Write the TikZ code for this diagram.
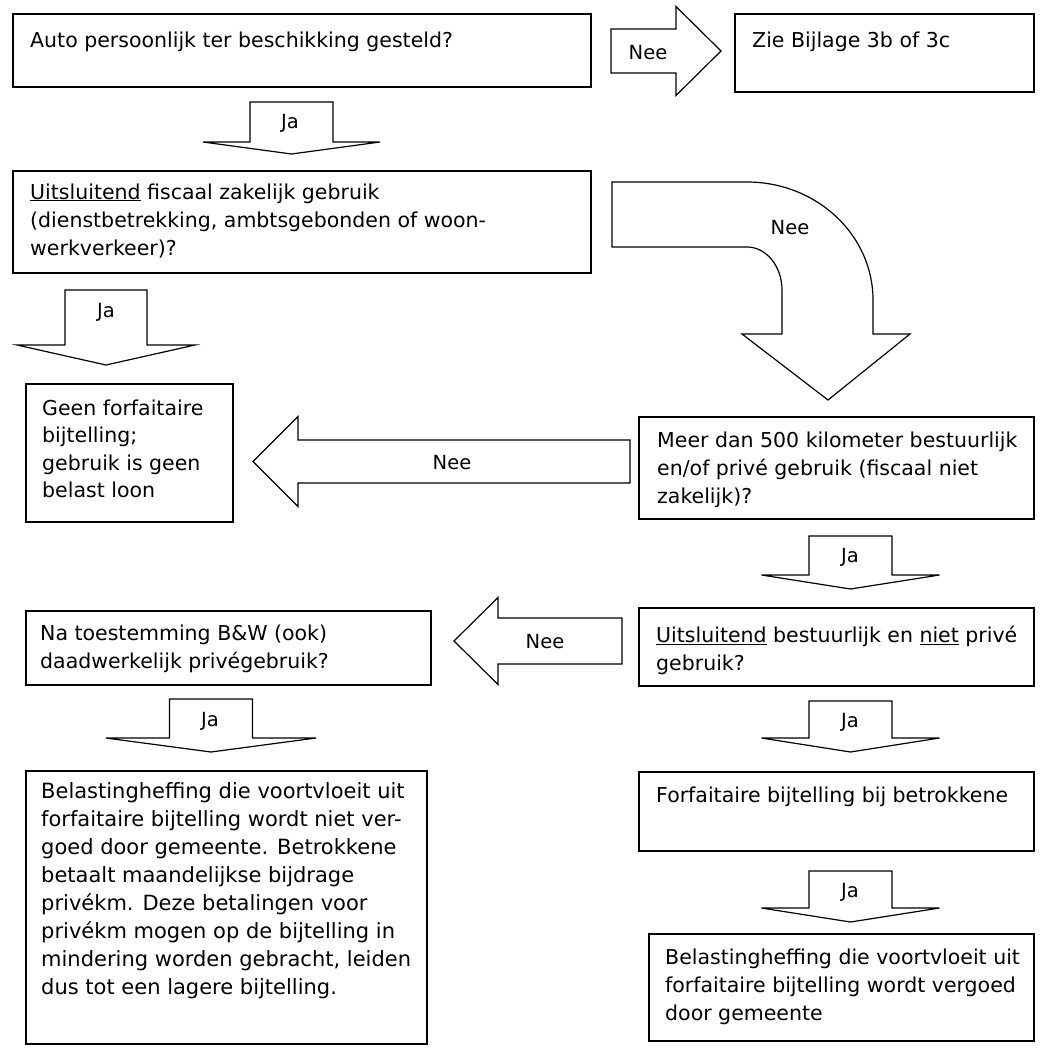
\documentclass[tikz,border=0pt]{standalone}
\usepackage{fontspec}
\setmainfont{DejaVu Sans}
\usepackage{tikz}

% blokpijlen: midden, begin, kop, punt, halve schacht, halve kop
\newcommand{\pijlomlaag}[6]{%
  \draw[pijl] (#1-#5,#2) -- (#1+#5,#2) -- (#1+#5,#3) -- (#1+#6,#3) -- (#1,#4)
    -- (#1-#6,#3) -- (#1-#5,#3) -- cycle;}
\newcommand{\pijlopzij}[6]{%
  \draw[pijl] (#2,#1-#5) -- (#3,#1-#5) -- (#3,#1-#6) -- (#4,#1) -- (#3,#1+#6)
    -- (#3,#1+#5) -- (#2,#1+#5) -- cycle;}

\begin{document}
\begin{tikzpicture}
[x=1pt,y=-1pt]
\tikzset{vak/.style={draw,line width=1.6pt,anchor=north west,inner sep=0pt}}
% tekst: geplaatst op de basislijn van de laatste regel
\tikzset{tekst/.style={anchor=base west,align=left,inner sep=0pt,font=\fontsize{20.5}{28}\selectfont}}
\tikzset{pijl/.style={draw,line width=1.2pt,fill=white,line join=miter}}
\tikzset{lbl/.style={inner sep=0pt,font=\fontsize{19.5}{22}\selectfont}}
\useasboundingbox (0,0) rectangle (1063,1058);

% vakken
\node [vak,minimum width=578pt,minimum height=73pt] (auto) at (12,13) {};
\node [vak,minimum width=299pt,minimum height=78pt] (bijlage) at (734,13) {};
\node [vak,minimum width=578pt,minimum height=102pt] (zakelijk) at (12,170) {};
\node [vak,minimum width=207pt,minimum height=138pt] (geen) at (25,383) {};
\node [vak,minimum width=395pt,minimum height=102pt] (meer) at (638,416) {};
\node [vak,minimum width=395pt,minimum height=78pt] (bestuurlijk) at (638,607) {};
\node [vak,minimum width=405pt,minimum height=74pt] (toestemming) at (25,610) {};
\node [vak,minimum width=401pt,minimum height=273pt] (nietvergoed) at (25,770) {};
\node [vak,minimum width=395pt,minimum height=79pt] (bijtelling) at (638,771) {};
\node [vak,minimum width=385pt,minimum height=107pt] (vergoed) at (648,933) {};

% teksten
\node [tekst] (autotekst) at (30,47) {Auto persoonlijk ter beschikking gesteld?};
\node [tekst] (bijlagetekst) at (752,47) {Zie Bijlage 3b of 3c};
\node [tekst] (zakelijktekst) at (30,255) {\underline{Uitsluitend} fiscaal zakelijk gebruik\\(dienstbetrekking, ambtsgebonden of woon-\\werkverkeer)?};
\node [tekst,font=\fontsize{20.5}{27.5}\selectfont] (geentekst) at (42,497.5) {Geen forfaitaire\\bijtelling;\\gebruik is geen\\belast loon};
\node [tekst] (meertekst) at (657,503) {Meer dan 500 kilometer bestuurlijk\\en/of priv\'e gebruik (fiscaal niet\\zakelijk)?};
\node [tekst] (bestuurlijktekst) at (656,670) {\underline{Uitsluitend} bestuurlijk en \underline{niet} priv\'e\\gebruik?};
\node [tekst] (toestemmingtekst) at (40,668) {Na toestemming B\&W (ook)\\daadwerkelijk priv\'egebruik?};
\node [tekst,font=\fontsize{21}{28}\selectfont] (nietvergoedtekst) at (41,994) {Belastingheffing die voortvloeit uit\\forfaitaire bijtelling wordt niet ver-\\goed door gemeente. Betrokkene\\betaalt maandelijkse bijdrage\\priv\'ekm. Deze betalingen voor\\priv\'ekm mogen op de bijtelling in\\mindering worden gebracht, leiden\\dus tot een lagere bijtelling.};
\node [tekst] (bijtellingtekst) at (656,802) {Forfaitaire bijtelling bij betrokkene};
\node [tekst] (vergoedtekst) at (665,1020) {Belastingheffing die voortvloeit uit\\forfaitaire bijtelling wordt vergoed\\door gemeente};

% pijlen
\pijlopzij{51}{611}{676}{721}{22}{44.5}
\node [lbl] (nee1) at (648,53) {Nee};
\pijlomlaag{291.5}{102}{142}{154}{41.5}{88.5}
\node [lbl] (ja1) at (290,123) {Ja};
\draw[pijl] (612,182) -- (747,182) .. controls (816.6,182) and (873,234.8) .. (873,300)
  -- (873,334) -- (910,334) -- (828,400) -- (742,334) -- (782,334) -- (782,290)
  .. controls (782,266.3) and (766.3,247) .. (747,247) -- (612,247) -- cycle;
\node [lbl] (nee2) at (790,228) {Nee};
\pijlomlaag{106}{290}{345}{365}{41}{89}
\node [lbl] (ja2) at (106,312) {Ja};
\pijlopzij{461.5}{630}{298}{253}{21.5}{45}
\node [lbl] (nee3) at (452,463) {Nee};
\foreach \boven/\kop/\punt in {536/575/589,701/738/752,871/908/922}{
  \pijlomlaag{850.5}{\boven}{\kop}{\punt}{41.5}{89}
  \node [lbl] (ja\boven) at (850,\boven+21) {Ja};
}
\pijlopzij{641}{622}{498}{454}{23}{43.5}
\node [lbl] (nee4) at (545,642) {Nee};
\pijlomlaag{211}{699}{738}{752}{41.5}{105}
\node [lbl] (ja3) at (210,721) {Ja};

\end{tikzpicture}
\end{document}
